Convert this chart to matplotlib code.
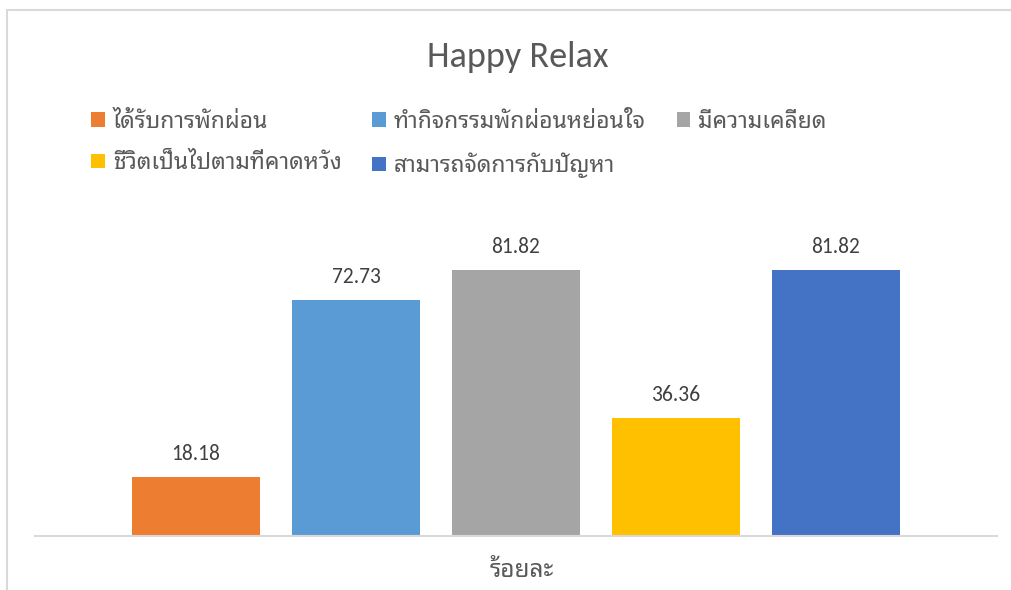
import matplotlib
matplotlib.use('Agg')
import matplotlib.pyplot as plt
from matplotlib import font_manager
from matplotlib.patches import Rectangle

# Data
series_names = ['ได้รับการพักผ่อน', 'ทำกิจกรรมพักผ่อนหย่อนใจ', 'มีความเคลียด',
                'ชีวิตเป็นไปตามที่คาดหวัง', 'สามารถจัดการกับปัญหา']
values = [18.18, 72.73, 81.82, 36.36, 81.82]
colors = ['#ED7D31', '#5B9BD5', '#A5A5A5', '#FFC000', '#4472C4']
category = 'ร้อยละ'
title = 'Happy Relax'

# pick fonts that are installed
names = set(f.name for f in font_manager.fontManager.ttflist)
thai = next((n for n in ['Noto Sans Thai Looped', 'Sarabun', 'Noto Sans Thai',
                         'Athiti', 'Bai Jamjuree'] if n in names), 'DejaVu Sans')
latin = next((n for n in ['Carlito', 'Calibri', 'Liberation Sans'] if n in names), 'DejaVu Sans')
plt.rcParams['font.family'] = [latin, thai, 'DejaVu Sans']
text_col = '#595959'

fig = plt.figure(figsize=(10.11, 5.9), dpi=100)
W, H = 1011, 590

# chart border (cropped at right/bottom)
fig.patches.append(Rectangle((7 / W, -0.1), 1.2, 1 - 10 / H + 0.1, transform=fig.transFigure,
                             fill=False, edgecolor='#D9D9D9', linewidth=1.5))

ymax = 90
ax = fig.add_axes([35 / W, 1 - 536 / H, (997 - 35) / W, (536 - 243.5) / H])
x = list(range(len(values)))
bars = ax.bar(x, values, width=0.8, color=colors, zorder=2)
ax.set_ylim(0, ymax)
ax.set_xlim(-1.006, 5.006)
for b, v in zip(bars, values):
    ax.text(b.get_x() + b.get_width() / 2, v + 4.0, '%.2f' % v, ha='center', va='bottom',
            fontsize=15.5, color='#404040')
for s in ['top', 'right', 'left']:
    ax.spines[s].set_visible(False)
ax.spines['bottom'].set_color('#D9D9D9')
ax.spines['bottom'].set_linewidth(1.5)
ax.set_yticks([])
ax.set_xticks([])
ax.set_facecolor('none')
fig.text(522 / W, 1 - 570 / H, category, ha='center', va='center', fontsize=17.5,
         color=text_col, fontweight='bold')

fig.text(518 / W, 1 - 57 / H, title, ha='center', va='center', fontsize=26,
         color=text_col)

# Excel fills the legend row by row, matplotlib column by column
order = [0, 3, 1, 4, 2]
leg = fig.legend([bars[i] for i in order], [series_names[i] for i in order], ncol=3,
                 loc='upper left', bbox_to_anchor=(80 / W, 1 - 99 / H), frameon=False,
                 fontsize=16.5, handlelength=0.58, handleheight=0.58, handletextpad=0.35,
                 columnspacing=1.35, labelspacing=0.9, borderpad=0)
for t in leg.get_texts():
    t.set_color(text_col)

fig.savefig('out.png')
